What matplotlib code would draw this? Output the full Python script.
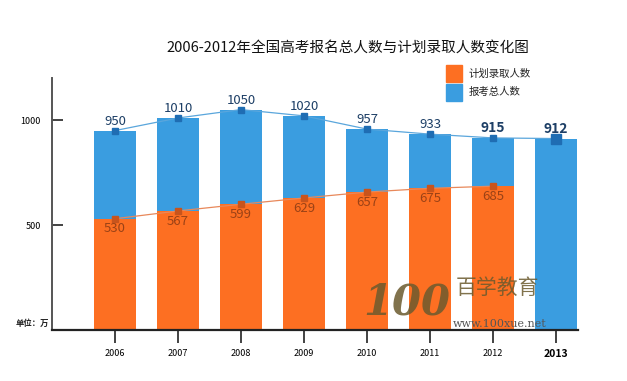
import matplotlib

matplotlib.use("Agg")

import matplotlib.pyplot as plt

plt.rcParams["font.family"] = ["Noto Sans CJK SC", "DejaVu Sans"]

years = ["2006", "2007", "2008", "2009", "2010", "2011", "2012", "2013"]
total = [950, 1010, 1050, 1020, 957, 933, 915, 912]
admitted = [530, 567, 599, 629, 657, 675, 685]

BLUE = "#3a9de0"
ORANGE = "#fd6f22"
BLUE_DARK = "#1f6db3"
ORANGE_DARK = "#c8541c"

fig = plt.figure(figsize=(6.27, 3.81), dpi=100)
ax = fig.add_axes([0.083, 0.134, 0.839, 0.661])

x = list(range(len(years)))
xa = x[: len(admitted)]
width = 0.67

ax.bar(x, total, width=width, color=BLUE, zorder=1)
ax.bar(xa, admitted, width=width, color=ORANGE, zorder=2)

ax.plot(x, total, color="#5aa6dc", lw=0.9, zorder=3)
ax.plot(x[:-1], total[:-1], "s", color=BLUE_DARK, ms=4.5, zorder=4)
ax.plot(x[-1], total[-1], "s", color=BLUE_DARK, ms=6.5, zorder=4)
ax.plot(xa, admitted, color="#e8885a", lw=0.9, zorder=3)
ax.plot(xa, admitted, "s", color=ORANGE_DARK, ms=4.5, zorder=4)

for i, v in enumerate(total):
    bold = i >= 6
    ax.text(i, v + 14, str(v), ha="center", va="bottom", fontsize=10 if bold else 9.5,
            color="#1d3f66", fontweight="bold" if bold else "normal", zorder=5)
for i, v in enumerate(admitted):
    ax.text(i, v - 18, str(v), ha="center", va="top", fontsize=9.5,
            color="#9b4216", zorder=5)

ax.set_xlim(-1, 7.35)
ax.set_ylim(0, 1200)
ax.set_yticks([500, 1000])
ax.set_yticklabels(["500", "1000"], fontsize=6.5)
ax.tick_params(axis="y", direction="in", length=8, width=1.2, color="#222222", pad=8)
ax.set_xticks(x)
ax.set_xticklabels(years, fontsize=6.5)
ax.get_xticklabels()[-1].set_fontweight("bold")
ax.get_xticklabels()[-1].set_fontsize(7.5)
ax.tick_params(axis="x", direction="out", length=9, width=1.2, color="#222222", pad=5)

for side in ("top", "right"):
    ax.spines[side].set_visible(False)
ax.spines["left"].set_color("#555555")
ax.spines["left"].set_linewidth(1.4)
ax.spines["bottom"].set_color("#222222")
ax.spines["bottom"].set_linewidth(1.6)

fig.text(0.555, 0.875, "2006-2012年全国高考报名总人数与计划录取人数变化图",
         ha="center", va="center", fontsize=10.5, color="#111111")
fig.text(0.025, 0.152, "单位：万", fontsize=6, fontweight="bold", color="#222222",
         va="center")

# legend
fig.patches.append(plt.Rectangle((0.712, 0.785), 0.025, 0.045, transform=fig.transFigure,
                                 color=ORANGE, figure=fig))
fig.patches.append(plt.Rectangle((0.712, 0.735), 0.025, 0.045, transform=fig.transFigure,
                                 color=BLUE, figure=fig))
fig.text(0.747, 0.807, "计划录取人数", fontsize=7.5, va="center", color="#222222")
fig.text(0.747, 0.758, "报考总人数", fontsize=7.5, va="center", color="#222222")

# watermark
fig.text(0.580, 0.205, "100", fontsize=30, fontstyle="italic", fontweight="bold",
         color="#6b5a2e", alpha=0.85, ha="left", va="center", family="DejaVu Serif")
fig.text(0.727, 0.245, "百学教育", fontsize=15, color="#6b5a2e", alpha=0.85,
         ha="left", va="center")
fig.text(0.722, 0.150, "www.100xue.net", fontsize=8, color="#555555",
         ha="left", va="center", family="DejaVu Serif")

fig.savefig("out.png", dpi=100)
